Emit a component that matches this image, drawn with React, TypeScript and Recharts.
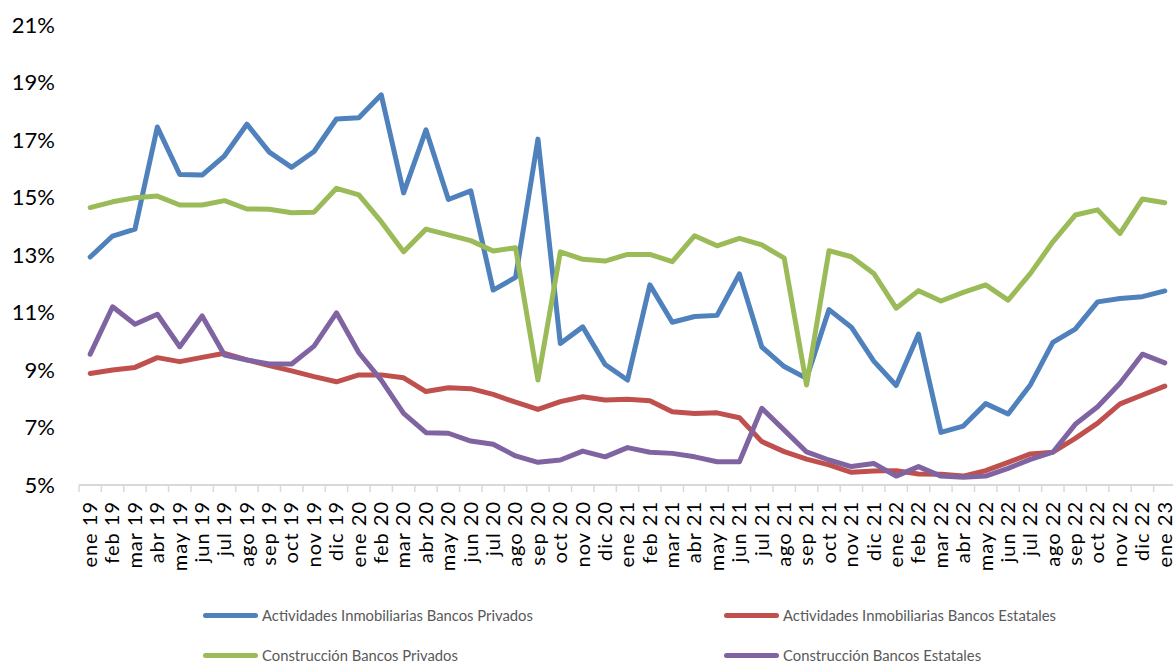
import React from "react";
import { LineChart, Line, XAxis, YAxis, Legend } from "recharts";

const months = [
  "ene 19", "feb 19", "mar 19", "abr 19", "may 19", "jun 19", "jul 19", "ago 19", "sep 19", "oct 19", "nov 19", "dic 19",
  "ene 20", "feb 20", "mar 20", "abr 20", "may 20", "jun 20", "jul 20", "ago 20", "sep 20", "oct 20", "nov 20", "dic 20",
  "ene 21", "feb 21", "mar 21", "abr 21", "may 21", "jun 21", "jul 21", "ago 21", "sep 21", "oct 21", "nov 21", "dic 21",
  "ene 22", "feb 22", "mar 22", "abr 22", "may 22", "jun 22", "jul 22", "ago 22", "sep 22", "oct 22", "nov 22", "dic 22",
  "ene 23",
];

// Actividades Inmobiliarias Bancos Privados
const inmoPrivados = [
  12.93, 13.66, 13.9, 17.45, 15.8, 15.78, 16.45, 17.55, 16.58, 16.05, 16.6, 17.73,
  17.77, 18.57, 15.16, 17.35, 14.93, 15.23, 11.78, 12.22, 17.03, 9.92, 10.5, 9.19,
  8.65, 11.96, 10.66, 10.86, 10.9, 12.34, 9.8, 9.12, 8.71, 11.1, 10.49, 9.31,
  8.46, 10.25, 6.83, 7.05, 7.83, 7.47, 8.49, 9.96, 10.42, 11.37, 11.49, 11.55,
  11.75,
];

// Actividades Inmobiliarias Bancos Estatales
const inmoEstatales = [
  8.88, 9.0, 9.09, 9.43, 9.29, 9.44, 9.58, 9.35, 9.15, 8.97, 8.77, 8.59,
  8.83, 8.83, 8.73, 8.25, 8.38, 8.35, 8.15, 7.88, 7.63, 7.9, 8.07, 7.96,
  7.98, 7.93, 7.55, 7.49, 7.51, 7.34, 6.51, 6.16, 5.9, 5.7, 5.44, 5.49,
  5.5, 5.38, 5.37, 5.31, 5.5, 5.79, 6.08, 6.14, 6.62, 7.15, 7.82, 8.13,
  8.44,
];

// Construcción Bancos Privados
const consPrivados = [
  14.65, 14.85, 14.99, 15.05, 14.74, 14.74, 14.89, 14.6, 14.59, 14.47, 14.49, 15.32,
  15.09, 14.16, 13.11, 13.9, 13.7, 13.5, 13.14, 13.25, 8.65, 13.11, 12.85, 12.79,
  13.02, 13.02, 12.77, 13.67, 13.32, 13.58, 13.35, 12.89, 8.48, 13.15, 12.94, 12.36,
  11.15, 11.76, 11.4, 11.7, 11.96, 11.43, 12.36, 13.46, 14.39, 14.57, 13.75, 14.95,
  14.82,
];

// Construcción Bancos Estatales
const consEstatales = [
  9.55, 11.2, 10.59, 10.94, 9.81, 10.88, 9.52, 9.35, 9.21, 9.21, 9.83, 10.99,
  9.6, 8.65, 7.49, 6.82, 6.8, 6.53, 6.42, 6.01, 5.79, 5.87, 6.18, 5.98,
  6.3, 6.14, 6.1, 5.98, 5.81, 5.81, 7.67, 6.91, 6.15, 5.87, 5.64, 5.75,
  5.31, 5.64, 5.31, 5.27, 5.31, 5.58, 5.89, 6.14, 7.11, 7.72, 8.54, 9.55,
  9.25,
];

const yTicks = [5, 7, 9, 11, 13, 15, 17, 19, 21];

const series = [
  { key: "inmoPrivados", name: "Actividades Inmobiliarias Bancos Privados", color: "#4F81BD" },
  { key: "inmoEstatales", name: "Actividades Inmobiliarias Bancos Estatales", color: "#C0504D" },
  { key: "consPrivados", name: "Construcción Bancos Privados", color: "#9BBB59" },
  { key: "consEstatales", name: "Construcción Bancos Estatales", color: "#8064A2" },
];

const data = months.map((m, i) => ({
  month: m,
  inmoPrivados: inmoPrivados[i],
  inmoEstatales: inmoEstatales[i],
  consPrivados: consPrivados[i],
  consEstatales: consEstatales[i],
}));

const CHART_W = 1180;
const Y_W = 79;
const MARGIN_R = 4;
// width of one month slot; points sit in the middle, ticks on the edges
const BAND = (CHART_W - Y_W - MARGIN_R) / months.length;
const FONT = "Lato, 'Open Sans', sans-serif";

const MonthTick = (props: any) => {
  const { x, y, payload } = props;
  return (
    <g transform={`translate(${x},${y})`}>
      <text
        transform="rotate(-90)"
        textAnchor="end"
        dy="0.34em"
        fontSize={20}
        fontFamily={FONT}
        letterSpacing={1}
        fill="#000"
      >
        {payload.value}
      </text>
    </g>
  );
};

const LegendGrid = () => (
  <div
    style={{
      display: "grid",
      gridTemplateColumns: "521px 400px",
      rowGap: 18,
      fontFamily: FONT,
      fontSize: 14.8,
      color: "#595959",
    }}
  >
    {series.map((s) => (
      <div key={s.key} style={{ display: "flex", alignItems: "center", height: 22 }}>
        <span
          style={{
            display: "inline-block",
            width: 55,
            height: 5,
            borderRadius: 3,
            background: s.color,
            marginRight: 4,
          }}
        />
        <span>{s.name}</span>
      </div>
    ))}
  </div>
);

export default function App() {
  return (
    <div
      style={{
        position: "absolute",
        left: 0,
        top: 0,
        width: 1173,
        height: 663,
        overflow: "hidden",
        background: "#fff",
      }}
    >
      <LineChart
        width={CHART_W}
        height={663}
        data={data}
        margin={{ top: 25, right: MARGIN_R, left: 0, bottom: 0 }}
      >
        <YAxis
          width={Y_W}
          domain={[5, 21]}
          ticks={yTicks}
          interval={0}
          axisLine={false}
          tickLine={false}
          tickSize={0}
          tickMargin={24}
          tickFormatter={(v: number) => `${v}%`}
          tick={{ fontSize: 22, fontFamily: FONT, fill: "#000" }}
        />
        <XAxis
          dataKey="month"
          interval={0}
          height={178}
          padding={{ left: BAND / 2, right: BAND / 2 }}
          axisLine={{ stroke: "#d9d9d9", strokeWidth: 2 }}
          tickLine={{ stroke: "#d9d9d9", strokeWidth: 1.5, transform: `translate(${-BAND / 2},0)` }}
          tickSize={7}
          tickMargin={9}
          tick={<MonthTick />}
        />
        {series.map((s) => (
          <Line
            key={s.key}
            type="linear"
            dataKey={s.key}
            name={s.name}
            stroke={s.color}
            strokeWidth={5}
            strokeLinejoin="round"
            strokeLinecap="round"
            dot={false}
            activeDot={false}
            isAnimationActive={false}
          />
        ))}
        <Legend
          layout="horizontal"
          verticalAlign="middle"
          align="center"
          content={<LegendGrid />}
          wrapperStyle={{ top: 604, left: 203, width: 960 }}
        />
      </LineChart>
    </div>
  );
}
